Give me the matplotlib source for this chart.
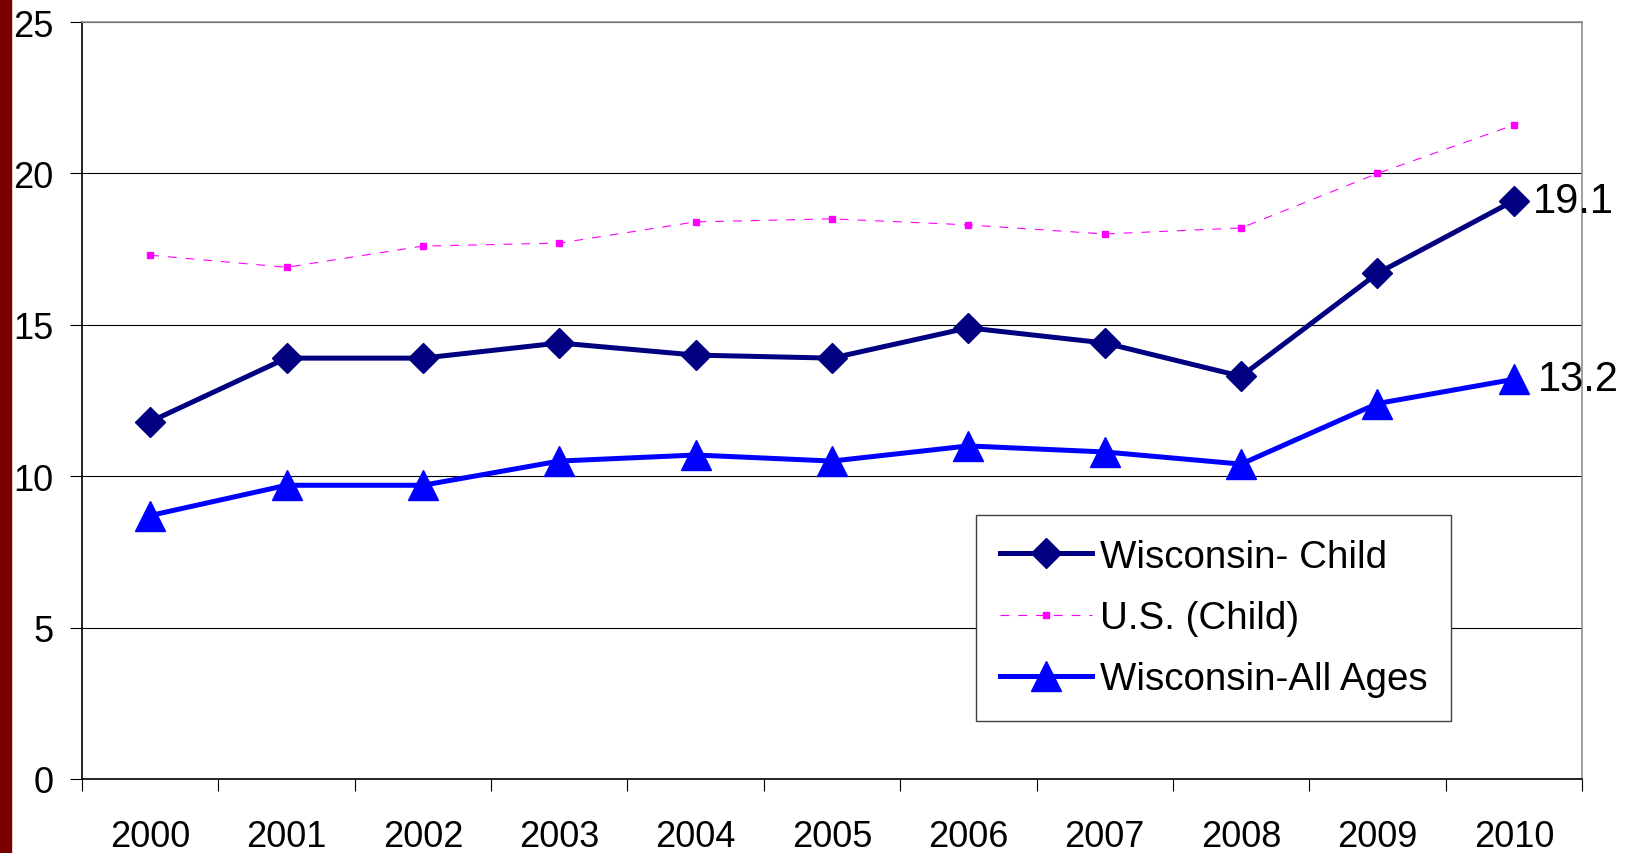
import matplotlib.pyplot as plt
import matplotlib.patches as patches
import numpy as np

plt.rcParams['font.family'] = ['Liberation Sans', 'DejaVu Sans']

# data
years = ['2000', '2001', '2002', '2003', '2004', '2005', '2006', '2007', '2008', '2009', '2010']
wi_child = [11.8, 13.9, 13.9, 14.4, 14.0, 13.9, 14.9, 14.4, 13.3, 16.7, 19.1]
us_child = [17.3, 16.9, 17.6, 17.7, 18.4, 18.5, 18.3, 18.0, 18.2, 20.0, 21.6]
wi_all = [8.7, 9.7, 9.7, 10.5, 10.7, 10.5, 11.0, 10.8, 10.4, 12.4, 13.2]

fig = plt.figure(figsize=(16.36, 8.54), dpi=100)
ax = fig.add_axes([0.0501, 0.0867, 0.967 - 0.0501, 0.973 - 0.0867])

# dark red strip on the left edge
fig.patches.append(patches.Rectangle((0, 0), 11 / 1636, 1, transform=fig.transFigure,
                                     color='#7A0000', zorder=0))

x = np.arange(len(years))
ax.plot(x, wi_child, color='#000080', linewidth=3.6, marker='D', markersize=15,
        label='Wisconsin- Child', zorder=4)
ax.plot(x, us_child, color='#FF00FF', linewidth=0.8, linestyle=(0, (8, 8)), marker='s',
        markersize=5, label='U.S. (Child)', zorder=3)
ax.plot(x, wi_all, color='#0000FF', linewidth=3.6, marker='^', markersize=21,
        label='Wisconsin-All Ages', zorder=4)

ax.annotate(f'{wi_child[-1]}', (x[-1], wi_child[-1]), xytext=(14, 0), textcoords='offset points',
            va='center', ha='left', fontsize=30)
ax.annotate(f'{wi_all[-1]}', (x[-1], wi_all[-1]), xytext=(17, 0), textcoords='offset points',
            va='center', ha='left', fontsize=30)

ax.set_xlim(-0.5, len(years) - 0.5)
ax.set_ylim(0, 25)
ax.set_yticks([0, 5, 10, 15, 20, 25])
ax.set_xticks(x)
ax.set_xticklabels(years)
ax.set_xticks(np.arange(-0.5, len(years), 1), minor=True)
ax.tick_params(axis='x', which='major', length=0, pad=29, labelsize=26)
ax.tick_params(axis='x', which='minor', length=8.6, width=0.8, direction='out')
ax.tick_params(axis='y', which='major', length=8.6, width=0.8, pad=12, labelsize=26)

ax.yaxis.grid(True, color='black', linewidth=0.8)
ax.set_axisbelow(True)
ax.spines['left'].set_color('black')
ax.spines['bottom'].set_color('black')
ax.spines['right'].set_color('#909090')
ax.spines['top'].set_color('#909090')
for s in ax.spines.values():
    s.set_linewidth(1.2)

leg = ax.legend(loc='upper left', bbox_to_anchor=(0.596, 0.349), fontsize=27.7,
                frameon=True, fancybox=False, framealpha=1, edgecolor='#404040',
                handlelength=2.4, handletextpad=0.2, borderpad=0.62, labelspacing=0.66,
                borderaxespad=0)
leg.get_frame().set_linewidth(1.0)

fig.savefig('out.png', dpi=100)
